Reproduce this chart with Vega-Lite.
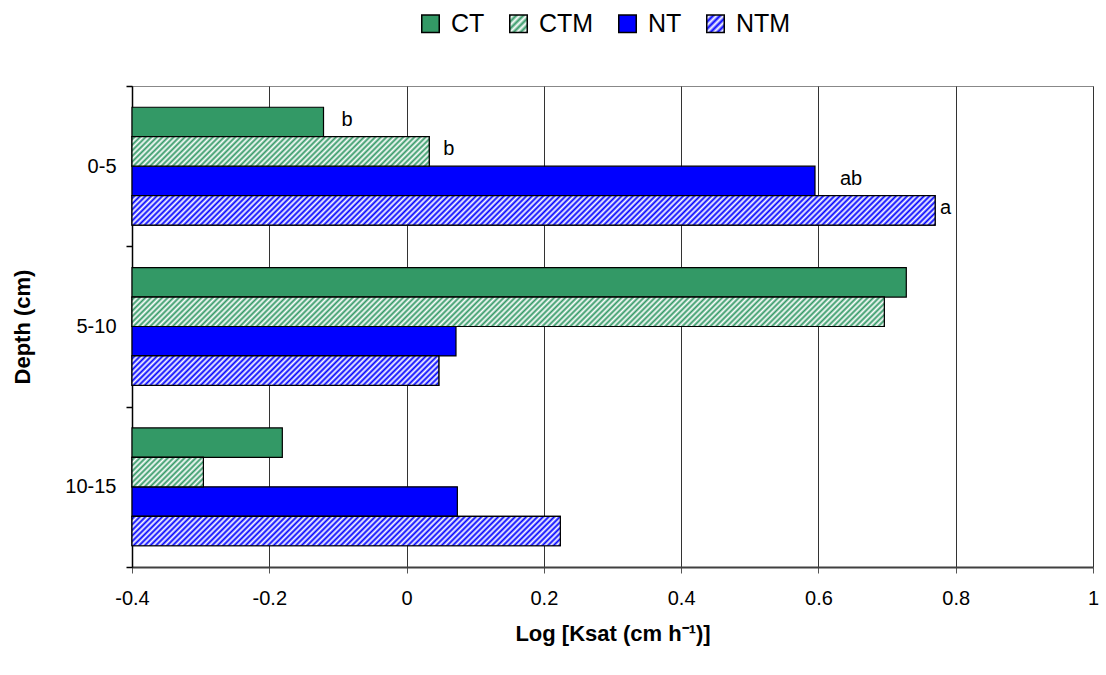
{
"$schema": "https://vega.github.io/schema/vega-lite/v6.json",
"width": 961,
"height": 481,
"autosize": "none",
"padding": {"left": 132, "top": 86, "right": 13, "bottom": 108},
"background": "white",
"params": [
{"name": "hs", "value": [
{"offset":0,"color":"#fff"},{"offset":0.0033,"color":"#fff0"},{"offset":0.0067,"color":"#fff"},
{"offset":0.01,"color":"#fff0"},{"offset":0.0133,"color":"#fff"},{"offset":0.0167,"color":"#fff0"},
{"offset":0.02,"color":"#fff"},{"offset":0.0233,"color":"#fff0"},{"offset":0.0267,"color":"#fff"},
{"offset":0.03,"color":"#fff0"},{"offset":0.0333,"color":"#fff"},{"offset":0.0367,"color":"#fff0"},
{"offset":0.04,"color":"#fff"},{"offset":0.0433,"color":"#fff0"},{"offset":0.0467,"color":"#fff"},
{"offset":0.05,"color":"#fff0"},{"offset":0.0533,"color":"#fff"},{"offset":0.0567,"color":"#fff0"},
{"offset":0.06,"color":"#fff"},{"offset":0.0633,"color":"#fff0"},{"offset":0.0667,"color":"#fff"},
{"offset":0.07,"color":"#fff0"},{"offset":0.0733,"color":"#fff"},{"offset":0.0767,"color":"#fff0"},
{"offset":0.08,"color":"#fff"},{"offset":0.0833,"color":"#fff0"},{"offset":0.0867,"color":"#fff"},
{"offset":0.09,"color":"#fff0"},{"offset":0.0933,"color":"#fff"},{"offset":0.0967,"color":"#fff0"},
{"offset":0.10,"color":"#fff"},{"offset":0.1033,"color":"#fff0"},{"offset":0.1067,"color":"#fff"},
{"offset":0.11,"color":"#fff0"},{"offset":0.1133,"color":"#fff"},{"offset":0.1167,"color":"#fff0"},
{"offset":0.12,"color":"#fff"},{"offset":0.1233,"color":"#fff0"},{"offset":0.1267,"color":"#fff"},
{"offset":0.13,"color":"#fff0"},{"offset":0.1333,"color":"#fff"},{"offset":0.1367,"color":"#fff0"},
{"offset":0.14,"color":"#fff"},{"offset":0.1433,"color":"#fff0"},{"offset":0.1467,"color":"#fff"},
{"offset":0.15,"color":"#fff0"},{"offset":0.1533,"color":"#fff"},{"offset":0.1567,"color":"#fff0"},
{"offset":0.16,"color":"#fff"},{"offset":0.1633,"color":"#fff0"},{"offset":0.1667,"color":"#fff"},
{"offset":0.17,"color":"#fff0"},{"offset":0.1733,"color":"#fff"},{"offset":0.1767,"color":"#fff0"},
{"offset":0.18,"color":"#fff"},{"offset":0.1833,"color":"#fff0"},{"offset":0.1867,"color":"#fff"},
{"offset":0.19,"color":"#fff0"},{"offset":0.1933,"color":"#fff"},{"offset":0.1967,"color":"#fff0"},
{"offset":0.20,"color":"#fff"},{"offset":0.2033,"color":"#fff0"},{"offset":0.2067,"color":"#fff"},
{"offset":0.21,"color":"#fff0"},{"offset":0.2133,"color":"#fff"},{"offset":0.2167,"color":"#fff0"},
{"offset":0.22,"color":"#fff"},{"offset":0.2233,"color":"#fff0"},{"offset":0.2267,"color":"#fff"},
{"offset":0.23,"color":"#fff0"},{"offset":0.2333,"color":"#fff"},{"offset":0.2367,"color":"#fff0"},
{"offset":0.24,"color":"#fff"},{"offset":0.2433,"color":"#fff0"},{"offset":0.2467,"color":"#fff"},
{"offset":0.25,"color":"#fff0"},{"offset":0.2533,"color":"#fff"},{"offset":0.2567,"color":"#fff0"},
{"offset":0.26,"color":"#fff"},{"offset":0.2633,"color":"#fff0"},{"offset":0.2667,"color":"#fff"},
{"offset":0.27,"color":"#fff0"},{"offset":0.2733,"color":"#fff"},{"offset":0.2767,"color":"#fff0"},
{"offset":0.28,"color":"#fff"},{"offset":0.2833,"color":"#fff0"},{"offset":0.2867,"color":"#fff"},
{"offset":0.29,"color":"#fff0"},{"offset":0.2933,"color":"#fff"},{"offset":0.2967,"color":"#fff0"},
{"offset":0.30,"color":"#fff"},{"offset":0.3033,"color":"#fff0"},{"offset":0.3067,"color":"#fff"},
{"offset":0.31,"color":"#fff0"},{"offset":0.3133,"color":"#fff"},{"offset":0.3167,"color":"#fff0"},
{"offset":0.32,"color":"#fff"},{"offset":0.3233,"color":"#fff0"},{"offset":0.3267,"color":"#fff"},
{"offset":0.33,"color":"#fff0"},{"offset":0.3333,"color":"#fff"},{"offset":0.3367,"color":"#fff0"},
{"offset":0.34,"color":"#fff"},{"offset":0.3433,"color":"#fff0"},{"offset":0.3467,"color":"#fff"},
{"offset":0.35,"color":"#fff0"},{"offset":0.3533,"color":"#fff"},{"offset":0.3567,"color":"#fff0"},
{"offset":0.36,"color":"#fff"},{"offset":0.3633,"color":"#fff0"},{"offset":0.3667,"color":"#fff"},
{"offset":0.37,"color":"#fff0"},{"offset":0.3733,"color":"#fff"},{"offset":0.3767,"color":"#fff0"},
{"offset":0.38,"color":"#fff"},{"offset":0.3833,"color":"#fff0"},{"offset":0.3867,"color":"#fff"},
{"offset":0.39,"color":"#fff0"},{"offset":0.3933,"color":"#fff"},{"offset":0.3967,"color":"#fff0"},
{"offset":0.40,"color":"#fff"},{"offset":0.4033,"color":"#fff0"},{"offset":0.4067,"color":"#fff"},
{"offset":0.41,"color":"#fff0"},{"offset":0.4133,"color":"#fff"},{"offset":0.4167,"color":"#fff0"},
{"offset":0.42,"color":"#fff"},{"offset":0.4233,"color":"#fff0"},{"offset":0.4267,"color":"#fff"},
{"offset":0.43,"color":"#fff0"},{"offset":0.4333,"color":"#fff"},{"offset":0.4367,"color":"#fff0"},
{"offset":0.44,"color":"#fff"},{"offset":0.4433,"color":"#fff0"},{"offset":0.4467,"color":"#fff"},
{"offset":0.45,"color":"#fff0"},{"offset":0.4533,"color":"#fff"},{"offset":0.4567,"color":"#fff0"},
{"offset":0.46,"color":"#fff"},{"offset":0.4633,"color":"#fff0"},{"offset":0.4667,"color":"#fff"},
{"offset":0.47,"color":"#fff0"},{"offset":0.4733,"color":"#fff"},{"offset":0.4767,"color":"#fff0"},
{"offset":0.48,"color":"#fff"},{"offset":0.4833,"color":"#fff0"},{"offset":0.4867,"color":"#fff"},
{"offset":0.49,"color":"#fff0"},{"offset":0.4933,"color":"#fff"},{"offset":0.4967,"color":"#fff0"},
{"offset":0.50,"color":"#fff"},{"offset":0.5033,"color":"#fff0"},{"offset":0.5067,"color":"#fff"},
{"offset":0.51,"color":"#fff0"},{"offset":0.5133,"color":"#fff"},{"offset":0.5167,"color":"#fff0"},
{"offset":0.52,"color":"#fff"},{"offset":0.5233,"color":"#fff0"},{"offset":0.5267,"color":"#fff"},
{"offset":0.53,"color":"#fff0"},{"offset":0.5333,"color":"#fff"},{"offset":0.5367,"color":"#fff0"},
{"offset":0.54,"color":"#fff"},{"offset":0.5433,"color":"#fff0"},{"offset":0.5467,"color":"#fff"},
{"offset":0.55,"color":"#fff0"},{"offset":0.5533,"color":"#fff"},{"offset":0.5567,"color":"#fff0"},
{"offset":0.56,"color":"#fff"},{"offset":0.5633,"color":"#fff0"},{"offset":0.5667,"color":"#fff"},
{"offset":0.57,"color":"#fff0"},{"offset":0.5733,"color":"#fff"},{"offset":0.5767,"color":"#fff0"},
{"offset":0.58,"color":"#fff"},{"offset":0.5833,"color":"#fff0"},{"offset":0.5867,"color":"#fff"},
{"offset":0.59,"color":"#fff0"},{"offset":0.5933,"color":"#fff"},{"offset":0.5967,"color":"#fff0"},
{"offset":0.60,"color":"#fff"},{"offset":0.6033,"color":"#fff0"},{"offset":0.6067,"color":"#fff"},
{"offset":0.61,"color":"#fff0"},{"offset":0.6133,"color":"#fff"},{"offset":0.6167,"color":"#fff0"},
{"offset":0.62,"color":"#fff"},{"offset":0.6233,"color":"#fff0"},{"offset":0.6267,"color":"#fff"},
{"offset":0.63,"color":"#fff0"},{"offset":0.6333,"color":"#fff"},{"offset":0.6367,"color":"#fff0"},
{"offset":0.64,"color":"#fff"},{"offset":0.6433,"color":"#fff0"},{"offset":0.6467,"color":"#fff"},
{"offset":0.65,"color":"#fff0"},{"offset":0.6533,"color":"#fff"},{"offset":0.6567,"color":"#fff0"},
{"offset":0.66,"color":"#fff"},{"offset":0.6633,"color":"#fff0"},{"offset":0.6667,"color":"#fff"},
{"offset":0.67,"color":"#fff0"},{"offset":0.6733,"color":"#fff"},{"offset":0.6767,"color":"#fff0"},
{"offset":0.68,"color":"#fff"},{"offset":0.6833,"color":"#fff0"},{"offset":0.6867,"color":"#fff"},
{"offset":0.69,"color":"#fff0"},{"offset":0.6933,"color":"#fff"},{"offset":0.6967,"color":"#fff0"},
{"offset":0.70,"color":"#fff"},{"offset":0.7033,"color":"#fff0"},{"offset":0.7067,"color":"#fff"},
{"offset":0.71,"color":"#fff0"},{"offset":0.7133,"color":"#fff"},{"offset":0.7167,"color":"#fff0"},
{"offset":0.72,"color":"#fff"},{"offset":0.7233,"color":"#fff0"},{"offset":0.7267,"color":"#fff"},
{"offset":0.73,"color":"#fff0"},{"offset":0.7333,"color":"#fff"},{"offset":0.7367,"color":"#fff0"},
{"offset":0.74,"color":"#fff"},{"offset":0.7433,"color":"#fff0"},{"offset":0.7467,"color":"#fff"},
{"offset":0.75,"color":"#fff0"},{"offset":0.7533,"color":"#fff"},{"offset":0.7567,"color":"#fff0"},
{"offset":0.76,"color":"#fff"},{"offset":0.7633,"color":"#fff0"},{"offset":0.7667,"color":"#fff"},
{"offset":0.77,"color":"#fff0"},{"offset":0.7733,"color":"#fff"},{"offset":0.7767,"color":"#fff0"},
{"offset":0.78,"color":"#fff"},{"offset":0.7833,"color":"#fff0"},{"offset":0.7867,"color":"#fff"},
{"offset":0.79,"color":"#fff0"},{"offset":0.7933,"color":"#fff"},{"offset":0.7967,"color":"#fff0"},
{"offset":0.80,"color":"#fff"},{"offset":0.8033,"color":"#fff0"},{"offset":0.8067,"color":"#fff"},
{"offset":0.81,"color":"#fff0"},{"offset":0.8133,"color":"#fff"},{"offset":0.8167,"color":"#fff0"},
{"offset":0.82,"color":"#fff"},{"offset":0.8233,"color":"#fff0"},{"offset":0.8267,"color":"#fff"},
{"offset":0.83,"color":"#fff0"},{"offset":0.8333,"color":"#fff"},{"offset":0.8367,"color":"#fff0"},
{"offset":0.84,"color":"#fff"},{"offset":0.8433,"color":"#fff0"},{"offset":0.8467,"color":"#fff"},
{"offset":0.85,"color":"#fff0"},{"offset":0.8533,"color":"#fff"},{"offset":0.8567,"color":"#fff0"},
{"offset":0.86,"color":"#fff"},{"offset":0.8633,"color":"#fff0"},{"offset":0.8667,"color":"#fff"},
{"offset":0.87,"color":"#fff0"},{"offset":0.8733,"color":"#fff"},{"offset":0.8767,"color":"#fff0"},
{"offset":0.88,"color":"#fff"},{"offset":0.8833,"color":"#fff0"},{"offset":0.8867,"color":"#fff"},
{"offset":0.89,"color":"#fff0"},{"offset":0.8933,"color":"#fff"},{"offset":0.8967,"color":"#fff0"},
{"offset":0.90,"color":"#fff"},{"offset":0.9033,"color":"#fff0"},{"offset":0.9067,"color":"#fff"},
{"offset":0.91,"color":"#fff0"},{"offset":0.9133,"color":"#fff"},{"offset":0.9167,"color":"#fff0"},
{"offset":0.92,"color":"#fff"},{"offset":0.9233,"color":"#fff0"},{"offset":0.9267,"color":"#fff"},
{"offset":0.93,"color":"#fff0"},{"offset":0.9333,"color":"#fff"},{"offset":0.9367,"color":"#fff0"},
{"offset":0.94,"color":"#fff"},{"offset":0.9433,"color":"#fff0"},{"offset":0.9467,"color":"#fff"},
{"offset":0.95,"color":"#fff0"},{"offset":0.9533,"color":"#fff"},{"offset":0.9567,"color":"#fff0"},
{"offset":0.96,"color":"#fff"},{"offset":0.9633,"color":"#fff0"},{"offset":0.9667,"color":"#fff"},
{"offset":0.97,"color":"#fff0"},{"offset":0.9733,"color":"#fff"},{"offset":0.9767,"color":"#fff0"},
{"offset":0.98,"color":"#fff"},{"offset":0.9833,"color":"#fff0"},{"offset":0.9867,"color":"#fff"},
{"offset":0.99,"color":"#fff0"},{"offset":0.9933,"color":"#fff"},{"offset":0.9967,"color":"#fff0"},
{"offset":1,"color":"#fff"}
]},
{"name": "hatchG", "value": {"gradient":"linear","x1":0,"y1":0,"x2":1,"y2":1,"stops":[
{"offset":0,"color":"#339966"},{"offset":0.1,"color":"#fff"},{"offset":0.2,"color":"#339966"},{"offset":0.3,"color":"#fff"},{"offset":0.4,"color":"#339966"},{"offset":0.5,"color":"#fff"},{"offset":0.6,"color":"#339966"},{"offset":0.7,"color":"#fff"},{"offset":0.8,"color":"#339966"},{"offset":0.9,"color":"#fff"},{"offset":1,"color":"#339966"}]}},
{"name": "hatchB", "value": {"gradient":"linear","x1":0,"y1":0,"x2":1,"y2":1,"stops":[
{"offset":0,"color":"#0000ff"},{"offset":0.1,"color":"#fff"},{"offset":0.2,"color":"#0000ff"},{"offset":0.3,"color":"#fff"},{"offset":0.4,"color":"#0000ff"},{"offset":0.5,"color":"#fff"},{"offset":0.6,"color":"#0000ff"},{"offset":0.7,"color":"#fff"},{"offset":0.8,"color":"#0000ff"},{"offset":0.9,"color":"#fff"},{"offset":1,"color":"#0000ff"}]}}
],
"data": {"values": [
{"depth":"0-5","series":"CT","value":-0.121,"label":"b"},
{"depth":"0-5","series":"CTM","value":0.033,"label":"b"},
{"depth":"0-5","series":"NT","value":0.595,"label":"ab"},
{"depth":"0-5","series":"NTM","value":0.770,"label":"a"},
{"depth":"5-10","series":"CT","value":0.728,"label":""},
{"depth":"5-10","series":"CTM","value":0.696,"label":""},
{"depth":"5-10","series":"NT","value":0.072,"label":""},
{"depth":"5-10","series":"NTM","value":0.047,"label":""},
{"depth":"10-15","series":"CT","value":-0.181,"label":""},
{"depth":"10-15","series":"CTM","value":-0.296,"label":""},
{"depth":"10-15","series":"NT","value":0.074,"label":""},
{"depth":"10-15","series":"NTM","value":0.224,"label":""}
]},
"encoding": {
"y": {"field":"depth","type":"nominal","sort":["0-5","5-10","10-15"],
 "scale":{"paddingInner":0,"paddingOuter":0,"round":false},
 "axis":{"title":"Depth (cm)","titleFontSize":22,"titleFontWeight":"bold","titleColor":"black","titleX":-110,"titleBaseline":"middle",
  "labelFontSize":20,"labelColor":"black","labelPadding":10,"labelAngle":0,"tickSize":6,"tickBand":"extent","tickColor":"black","tickWidth":1.5,
  "domainColor":"black","domainWidth":1.5,"grid":false}},
"yOffset": {"field":"series","type":"nominal","scale":{"domain":["CT","CTM","NT","NTM"],"paddingInner":0,"paddingOuter":0.7213,"round":false}},
"x": {"field":"value","type":"quantitative","scale":{"domain":[-0.4,1],"nice":false,"zero":false},
 "axis":{"values":[-0.4,-0.2,0,0.2,0.4,0.6,0.8,1],"labelExpr":"'' + datum.value","labelFontSize":20,"labelColor":"black","labelPadding":15,"labelFlush":false,
  "tickSize":6,"tickColor":"#555","domainColor":"#404040","domainWidth":2,"grid":true,"gridColor":"#333","gridWidth":1,
  "title":"Log [Ksat (cm h⁻¹)]","titleFontSize":22,"titleFontWeight":"bold","titleColor":"black","titleY":66,"titleBaseline":"middle"}}
},
"layer": [
{"mark":{"type":"bar","stroke":"black","strokeWidth":1.2},
 "encoding":{"x2":{"datum":-0.4},
  "fill":{"field":"series","type":"nominal",
   "scale":{"domain":["CT","CTM","NT","NTM"],"range":["#339966",{"expr":"hatchG"},"#0000ff",{"expr":"hatchB"}]},
   "legend":{"title":null,"orient":"none","legendX":286,"legendY":-75,"direction":"horizontal","columns":4,
    "symbolType":"square","symbolSize":306,"symbolStrokeColor":"black","symbolStrokeWidth":1.5,"symbolOpacity":1,
    "labelFontSize":25,"labelColor":"black","labelOffset":8,"columnPadding":21,"padding":0}}}},
{"transform":[{"filter":{"field":"series","oneOf":["CTM","NTM"]}}],
 "mark":{"type":"bar","fill":{"expr":"datum.series === 'CTM' ? '#339966' : '#0000ff'"}},
 "encoding":{"x2":{"datum":-0.4}}},
{"transform":[{"filter":{"field":"series","oneOf":["CTM","NTM"]}}],
 "mark":{"type":"bar","stroke":"black","strokeWidth":1.2,
  "fill":{"expr":"{gradient:'linear',x1:0,y1:0,x2:840*((datum.value+0.4)*686.43)/(((datum.value+0.4)*686.43)*((datum.value+0.4)*686.43)+867.7),y2:840*29.457/(((datum.value+0.4)*686.43)*((datum.value+0.4)*686.43)+867.7),stops:hs}"}},
 "encoding":{"x2":{"datum":-0.4}}},
{"transform":[{"filter":"datum.label != ''"}],
 "mark":{"type":"text","align":"left","baseline":"alphabetic","dy":4,"fontSize":20,"fill":"black",
  "dx":{"expr":"datum.series === 'NTM' ? 5 : datum.series === 'NT' ? 25 : datum.series === 'CT' ? 18 : 14"}},
 "encoding":{"text":{"field":"label"}}}
],
"config": {"font":"Liberation Sans","view":{"stroke":"#888","strokeWidth":1}}
}
